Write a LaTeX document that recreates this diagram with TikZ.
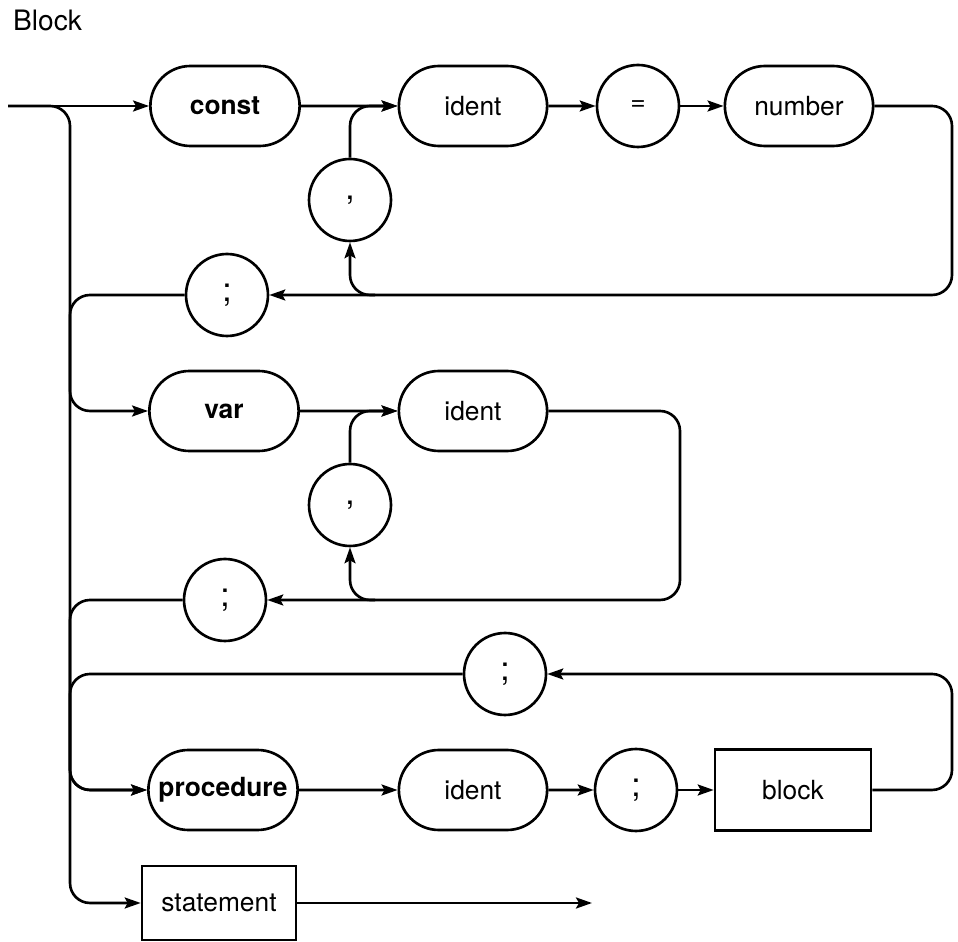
\documentclass[tikz,border=0pt]{standalone}
\usepackage{fontspec}
\setmainfont{TeX Gyre Heros}
\usetikzlibrary{shapes.misc, arrows.meta, calc}

\tikzset{
  kw/.style={rounded rectangle, draw, minimum width=3.22cm, minimum height=1.6cm, font=\fontsize{15}{18}\selectfont\bfseries},
  word/.style={rounded rectangle, draw, minimum width=3.2cm, minimum height=1.6cm},
  sym/.style={circle, draw, minimum size=1.64cm, inner sep=0pt},
  punct/.style={sym, font=\fontsize{19}{22}\selectfont},
  nterm/.style={rectangle, draw, minimum height=1.62cm},
  flow/.style={-{Stealth[length=3.2mm, width=2.2mm, inset=0.6mm]}},
}

\begin{document}
\begin{tikzpicture}[x=0.02cm, y=-0.02cm, line width=1.5pt, font=\fontsize{15}{18}\selectfont]
    \useasboundingbox (0,0) rectangle (958,942);
    \node[anchor=base west, font=\fontsize{16}{19}\selectfont] (title) at (6,31) {Block};

    % const part
    \node[kw] (const) at (225,106) {const};
    \node[word] (ident1) at (473,106) {ident};
    \node[sym] (eq1) at (638,106) {=};
    \node[word] (num) at (799,106) {number};
    \node[punct] (comma1) at (350,200) {,};
    \node[punct] (semi1) at (227,295) {;};

    % var part
    \node[kw] (var) at (224,411) {var};
    \node[word] (ident2) at (473,411) {ident};
    \node[punct] (comma2) at (350,505) {,};
    \node[punct] (semi2) at (225,600) {;};

    % procedure part
    \node[punct] (semi3) at (505,674) {;};
    \node[kw] (proc) at (223,790) {procedure};
    \node[word] (ident3) at (473,790) {ident};
    \node[punct] (semi4) at (636,790) {;};
    \node[nterm, minimum width=3.12cm] (block) at (793,790) {block};
    \node[nterm, minimum width=3.08cm, minimum height=1.48cm] (stmt) at (219,903) {statement};

    \coordinate (in) at (8,106);
    \coordinate (fork) at (70,106);
    \coordinate (out) at (592,903);
    \coordinate (back1) at (952,295);
    \coordinate (back2) at (680,600);
    \coordinate (back3) at (952,674);

    % main line
    \draw[flow] (in) -- (const);
    \draw[flow, rounded corners=0.4cm] (in) -| (fork |- stmt) -- (stmt);
    \draw[flow] (stmt) -- (out);

    \draw[flow] (const) -- (ident1);
    \draw[flow] (ident1) -- (eq1);
    \draw[flow] (eq1) -- (num);
    \draw[flow, rounded corners=0.4cm] (num.east) -| (back1) -- (semi1);
    \draw[flow, rounded corners=0.4cm] ($(comma1 |- back1)+(25,0)$) -| (comma1.south);
    \draw[flow, rounded corners=0.4cm] (comma1.north) |- (ident1.west);
    \draw[flow, rounded corners=0.4cm] (semi1.west) -| (fork |- var) -- (var);

    \draw[flow] (var) -- (ident2);
    \draw[flow, rounded corners=0.4cm] (ident2.east) -| (back2) -- (semi2);
    \draw[flow, rounded corners=0.4cm] ($(comma2 |- back2)+(25,0)$) -| (comma2.south);
    \draw[flow, rounded corners=0.4cm] (comma2.north) |- (ident2.west);
    \draw[flow, rounded corners=0.4cm] (semi2.west) -| (fork |- proc) -- (proc);

    \draw[flow, rounded corners=0.4cm] (semi3.west) -| (fork |- proc) -- (proc);
    \draw[flow] (proc) -- (ident3);
    \draw[flow] (ident3) -- (semi4);
    \draw[flow] (semi4) -- (block);
    \draw[flow, rounded corners=0.4cm] (block.east) -| (back3) -- (semi3);
\end{tikzpicture}
\end{document}
